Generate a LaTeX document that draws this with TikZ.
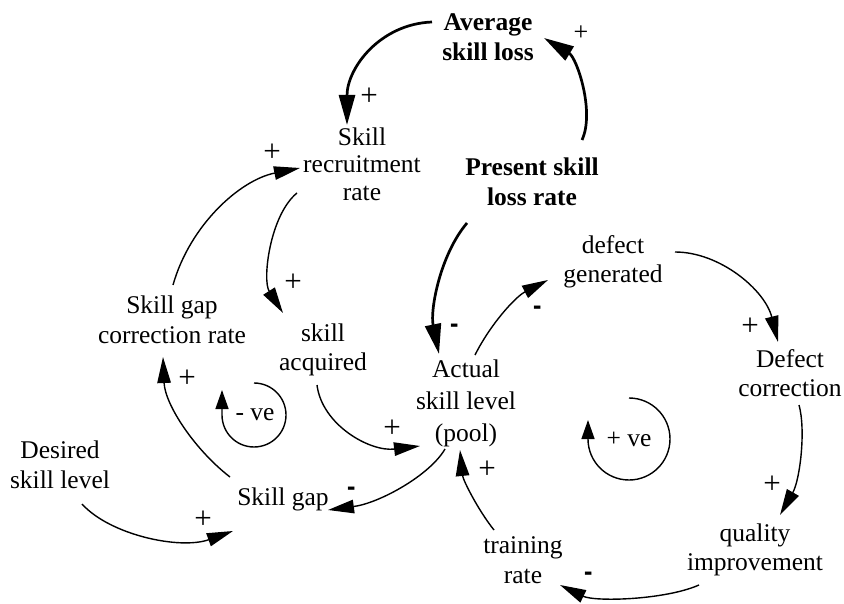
\documentclass[tikz,border=0pt]{standalone}
\usepackage{fontspec}
\setmainfont{Liberation Serif}
\usetikzlibrary{arrows.meta,calc}
\begin{document}
\begin{tikzpicture}[x=1pt,y=-1pt,
  lbl/.style={align=center,inner sep=0pt,font=\fontsize{25.5}{29.5}\selectfont},
  blbl/.style={align=center,inner sep=0pt,font=\fontsize{25.5}{29.5}\selectfont\bfseries},
  pl/.style={inner sep=0pt,font=\fontsize{31}{31}\selectfont},
  mi/.style={inner sep=0pt,font=\fontsize{25}{25}\selectfont\bfseries,transform shape,yscale=1.5},
  lnk/.style={line width=1.4pt,-{Triangle[length=26pt,width=13.5pt]}},
  tlnk/.style={line width=2.7pt,-{Triangle[length=30pt,width=16pt]}},
  lp/.style={line width=1.4pt,-{Triangle[length=19pt,width=13pt]}}]
\useasboundingbox (0,0) rectangle (844,604);

% variables
\node[blbl] (avg) at (488,37) {Average\\skill loss};
\node[lbl,font=\fontsize{25.5}{27.5}\selectfont] (rec) at (362,164) {Skill\\recruitment\\rate};
\node[blbl] (pres) at (532,182) {Present skill\\loss rate};
\node[lbl] (defg) at (613,262) {defect\\generated};
\node[lbl] (sgcr) at (172,320) {Skill gap\\correction rate};
\node[lbl] (acq) at (323,350) {skill\\acquired};
\node[lbl,font=\fontsize{25.5}{32}\selectfont] (act) at (466,403) {Actual\\skill level\\(pool)};
\node[lbl] (defc) at (790,373) {Defect\\correction};
\node[lbl] (des) at (60,465) {Desired\\skill level};
\node[lbl] (gap) at (283,499) {Skill gap};
\node[lbl] (train) at (523,560) {training\\rate};
\node[lbl] (qual) at (755,550) {quality\\improvement};

% loop markers
\node[lbl] (nve) at (255,415) {- ve};
\node[lbl] (pve) at (629,439) {+ ve};
\draw[lp] ($(nve)+(-1,-32)$) arc[start angle=-90,end angle=180,radius=32] -- ++(0,-25);
\draw[lp] ($(pve)+(0,-41)$) arc[start angle=-90,end angle=180,radius=41] -- ++(0,-19);

% connectors
\draw[tlnk] ($(avg)+(-56,-15)$) .. controls (380,24) and (347,68) .. ($(rec)+(-15,-39)$);
\draw[tlnk] ($(pres)+(50,-42)$) .. controls (595,112) and (577,58) .. ($(avg)+(56,1)$);
\draw[lnk] ($(rec)+(-65,29)$) .. controls (270,215) and (262,280) .. ($(acq)+(-40,-37)$);
\draw[lnk] ($(sgcr)+(1,-35)$) .. controls (190,225) and (240,180) .. ($(rec)+(-62,4)$);
\draw[tlnk] ($(pres)+(-65,41)$) .. controls (440,255) and (430,310) .. ($(act)+(-27,-49)$);
\draw[lnk] ($(act)+(9,-48)$) .. controls (490,325) and (515,297) .. ($(defg)+(-65,18)$);
\draw[lnk] ($(defg)+(62,-10)$) .. controls (720,252) and (765,290) .. ($(defc)+(-12,-31)$);
\draw[lnk] ($(defc)+(9,32)$) .. controls (806,430) and (800,480) .. ($(qual)+(25,-35)$);
\draw[lnk] ($(qual)+(-56,35)$) .. controls (665,600) and (595,602) .. ($(train)+(37,25)$);
\draw[lnk] ($(train)+(-29,-30)$) .. controls (478,510) and (463,480) .. ($(act)+(-6,47)$);
\draw[lnk] ($(act)+(-21,46)$) .. controls (430,475) and (380,503) .. ($(gap)+(45,11)$);
\draw[lnk] ($(acq)+(-6,35)$) .. controls (322,425) and (370,452) .. ($(act)+(-46,43)$);
\draw[lnk] ($(gap)+(-53,-22)$) .. controls (195,450) and (165,405) .. ($(sgcr)+(-9,37)$);
\draw[lnk] ($(des)+(22,39)$) .. controls (110,535) and (180,550) .. ($(gap)+(-50,32)$);

% polarity signs
\node[pl] (s1) at (369,97) {+};
\node[pl,font=\fontsize{26}{26}\selectfont] (s2) at (581,33) {+};
\node[pl] (s3) at (293,283) {+};
\node[pl] (s4) at (272,153) {+};
\node[mi] (s5) at (455,329) {-};
\node[mi] (s6) at (538,311) {-};
\node[pl] (s7) at (750,327) {+};
\node[pl] (s8) at (772,485) {+};
\node[mi] (s9) at (589,577) {-};
\node[pl] (s10) at (487,470) {+};
\node[mi] (s11) at (352,492) {-};
\node[pl] (s12) at (392,429) {+};
\node[pl] (s13) at (187,379) {+};
\node[pl] (s14) at (203,520) {+};
\end{tikzpicture}
\end{document}
